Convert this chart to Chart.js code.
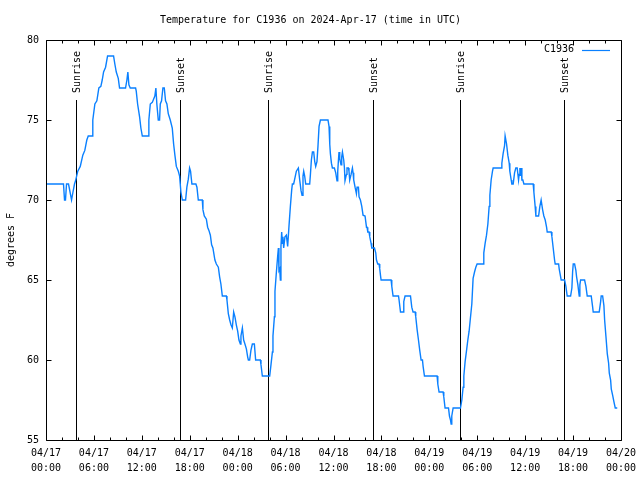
<!DOCTYPE html>
<html>
<head>
<meta charset="utf-8">
<title>Temperature for C1936</title>
<script src="https://cdn.jsdelivr.net/npm/chart.js@4/dist/chart.umd.min.js"></script>
<style>
  html, body { margin: 0; padding: 0; background: #fff; }
  canvas { display: block; }
</style>
</head>
<body>
<canvas id="tempChart" width="640" height="480"></canvas>
<script>
// station + title
const stationName = "C1936";
const chartTitle = "Temperature for C1936 on 2024-Apr-17 (time in UTC)";

// hours since 04/17 00:00 UTC
const hours = [
  0, 2.19, 2.32, 2.44, 2.57, 2.82, 3.2, 3.38, 3.57, 3.7,
  3.98, 4.29, 4.61, 4.86, 5.11, 5.29, 5.79, 5.86, 6.12, 6.37,
  6.62, 6.87, 7.04, 7.21, 7.46, 7.71, 8.46, 8.62, 8.8, 9.05,
  9.21, 9.96, 10.13, 10.25, 10.38, 10.55, 11.22, 11.3, 11.47, 11.72,
  11.88, 12.06, 12.81, 12.88, 13.06, 13.31, 13.63, 13.76, 13.88, 14.06,
  14.22, 14.31, 14.47, 14.64, 14.81, 14.97, 15.14, 15.31, 15.56, 15.81,
  15.98, 16.14, 16.32, 16.57, 16.73, 16.89, 17.07, 17.48, 17.64, 17.82,
  17.98, 18.1, 18.27, 18.77, 18.9, 19.07, 19.57, 19.65, 19.82, 20.08,
  20.24, 20.4, 20.58, 20.74, 20.9, 21.15, 21.33, 21.58, 21.74, 21.9,
  22.08, 22.58, 22.66, 22.83, 23.0, 23.16, 23.33, 23.5, 23.66, 23.83,
  24.0, 24.16, 24.34, 24.41, 24.59, 24.75, 24.91, 25.09, 25.25, 25.34,
  25.5, 25.66, 25.84, 26.09, 26.25, 26.84, 26.92, 27.09, 28.01, 28.17,
  28.35, 28.42, 28.6, 28.67, 28.85, 29.01, 29.1, 29.17, 29.26, 29.35,
  29.42, 29.51, 29.6, 29.67, 29.76, 29.92, 30.1, 30.26, 30.43, 30.6,
  30.76, 30.85, 31.01, 31.18, 31.35, 31.6, 31.77, 31.93, 32.06, 32.18,
  32.27, 32.39, 32.52, 33.02, 33.11, 33.23, 33.36, 33.52, 33.65, 33.77,
  33.93, 34.06, 34.19, 34.36, 35.31, 35.44, 35.53, 35.61, 35.74, 35.86,
  36.11, 36.28, 36.44, 36.53, 36.62, 36.69, 36.78, 36.94, 37.03, 37.12,
  37.28, 37.37, 37.44, 37.62, 37.69, 37.87, 37.94, 38.03, 38.2, 38.37,
  38.45, 38.53, 38.7, 38.87, 38.95, 39.12, 39.2, 39.37, 39.54, 39.7,
  39.95, 40.13, 40.2, 40.29, 40.45, 40.54, 40.7, 40.79, 41.13, 41.29,
  41.38, 41.54, 41.7, 41.79, 41.88, 41.96, 43.21, 43.3, 43.46, 44.14,
  44.21, 44.39, 44.71, 44.8, 44.96, 45.64, 45.8, 45.96, 46.22, 46.3,
  46.47, 46.64, 46.8, 46.97, 47.14, 47.22, 47.39, 48.97, 49.06, 49.22,
  49.72, 49.81, 49.97, 50.4, 50.52, 50.65, 50.73, 50.81, 50.98, 51.9,
  52.07, 52.23, 52.32, 52.48, 52.66, 52.82, 52.98, 53.16, 53.32, 53.48,
  53.66, 53.82, 53.98, 54.74, 54.82, 54.99, 55.16, 55.33, 55.49, 55.58,
  55.74, 55.91, 55.99, 56.99, 57.08, 57.24, 57.42, 57.49, 57.67, 57.83,
  58.0, 58.08, 58.25, 58.33, 58.5, 58.67, 58.83, 59.0, 59.17, 59.25,
  59.34, 59.42, 59.5, 59.59, 59.71, 59.84, 61.0, 61.09, 61.25, 61.34,
  61.68, 61.84, 62.0, 62.18, 62.34, 62.51, 62.68, 62.76, 63.26, 63.35,
  63.51, 63.68, 63.76, 64.19, 64.26, 64.44, 64.51, 64.94, 65.1, 65.26,
  65.69, 65.85, 65.94, 66.02, 66.19, 66.35, 66.44, 66.6, 66.77, 66.85,
  66.94, 67.44, 67.61, 67.77, 68.27, 68.45, 68.52, 69.27, 69.45, 69.52,
  69.7, 69.86, 69.95, 70.11, 70.28, 70.45, 70.53, 70.7, 70.78, 70.95,
  71.11, 71.28, 71.53
];

// degrees F, same order as hours
const tempF = [
  71, 71, 70, 70, 71, 71, 70, 70.5, 71, 71.2,
  71.8, 72.1, 72.8, 73.1, 73.75, 74, 74, 75, 76, 76.2,
  77, 77.1, 77.5, 78, 78.3, 79, 79, 78.5, 78, 77.6,
  77, 77, 77.5, 78, 77.2, 77, 77, 76.8, 76, 75.2,
  74.5, 74, 74, 75, 76, 76.1, 76.5, 77, 76, 75,
  75, 76, 76.2, 77, 77, 76.2, 76, 75.4, 75, 74.5,
  73.5, 72.8, 72.1, 71.8, 71.5, 70.5, 70, 70, 70.8, 71.3,
  72, 71.8, 71, 71, 70.8, 70, 70, 69.4, 69, 68.8,
  68.3, 68.1, 67.8, 67.2, 67, 66.25, 66, 65.8, 65.2, 64.75,
  64, 64, 63.75, 62.9, 62.5, 62.2, 62, 63, 62.7, 62.2,
  61.8, 61.25, 61, 61.5, 62, 61.25, 61, 60.7, 60.2, 60,
  60, 60.6, 61, 61, 60, 60, 59.7, 59, 59, 59.7,
  60.5, 61.5, 62.7, 64.3, 65.5, 66.5, 67, 65.6, 65.7, 65,
  67.1, 68, 67.3, 67.7, 67, 67.7, 67.8, 67.1, 68.4, 69.6,
  70.6, 71, 71, 71.4, 71.8, 72, 71.25, 70.6, 70.3, 71.5,
  71.8, 71.5, 71, 71, 71.6, 72.5, 73, 73, 72.4, 72.1,
  72.4, 73.4, 74.6, 75, 75, 74.6, 73.5, 72.9, 72.3, 72,
  72, 71.7, 71.2, 71.8, 72.5, 73, 72.6, 72.2, 72.7, 73,
  72.5, 72, 71.2, 71.6, 72, 72, 71.8, 71.25, 71.6, 72,
  71.7, 71.25, 70.8, 70.4, 70.8, 70.8, 70.2, 70, 69.6, 69.05,
  69, 68.3, 68.3, 68, 68, 67.7, 67.3, 67, 67, 66.7,
  66.25, 66, 66, 65.7, 65.3, 65, 65, 64.6, 64, 64,
  63.75, 63, 63, 63.65, 64, 64, 63.3, 63, 63, 62.7,
  61.9, 61.25, 60.6, 60, 60, 59.6, 59, 59, 58.5, 58,
  58, 57.7, 57, 57, 56.5, 56.25, 56, 56.5, 57, 57,
  57.5, 58.3, 59, 59.9, 60.6, 61.25, 61.8, 62.7, 63.5, 65.1,
  65.5, 65.8, 66, 66, 66.7, 67.3, 67.8, 68.5, 69.6, 70.3,
  71.25, 71.8, 72, 72, 72.3, 72.9, 73.4, 74, 73.5, 72.8,
  72.3, 71.8, 71.25, 71, 71, 71.7, 72, 72, 71.25, 71.6,
  72, 71.5, 72, 71.25, 71.25, 71, 71, 70.5, 69.6, 69,
  69, 69.6, 70, 69.4, 69, 68.75, 68.3, 68, 68, 67.7,
  67, 66.25, 66, 66, 65.7, 65.2, 65, 65, 64.6, 64,
  64, 64.5, 65.5, 66, 66, 65.6, 65.2, 64.7, 64, 64.7,
  65, 65, 64.6, 64, 64, 63.3, 63, 63, 63.65, 64,
  64, 63.4, 62.5, 61.5, 60.4, 59.8, 59.2, 58.75, 58.2, 57.8,
  57.4, 57, 57
];

// sunrise / sunset markers (hours since start)
const eventHours = [3.76, 16.78, 27.8, 40.95, 51.84, 64.86];
const eventLabels = ["Sunrise", "Sunset", "Sunrise", "Sunset", "Sunrise", "Sunset"];

// tick labels
const xTickDates = ["04/17", "04/17", "04/17", "04/17", "04/18", "04/18", "04/18", "04/18", "04/19", "04/19", "04/19", "04/19", "04/20"];
const xTickTimes = ["00:00", "06:00", "12:00", "18:00", "00:00", "06:00", "12:00", "18:00", "00:00", "06:00", "12:00", "18:00", "00:00"];
const yTicks = [55, 60, 65, 70, 75, 80];

const lineColor = "rgb(10, 128, 255)";
const monoFont = "'DejaVu Sans Mono', 'Liberation Mono', monospace";

// gnuplot style frame: border, inward ticks, sunrise/sunset lines, key
const framePlugin = {
  id: "frame",
  beforeDatasetsDraw(chart) {
    const { ctx, chartArea, scales } = chart;
    const { top, bottom } = chartArea;
    const lineTop = bottom - 0.85 * (bottom - top);
    const labelStart = bottom - 0.8675 * (bottom - top);
    ctx.save();
    ctx.strokeStyle = "#000";
    ctx.lineWidth = 1;
    ctx.fillStyle = "#000";
    ctx.font = "10px " + monoFont;
    eventHours.forEach((h, i) => {
      const x = Math.round(scales.x.getPixelForValue(h)) + 0.5;
      ctx.beginPath();
      ctx.moveTo(x, lineTop);
      ctx.lineTo(x, bottom);
      ctx.stroke();
      ctx.save();
      ctx.translate(x + 1, labelStart);
      ctx.rotate(-Math.PI / 2);
      ctx.textAlign = "left";
      ctx.textBaseline = "middle";
      ctx.fillText(eventLabels[i], 0, 0);
      ctx.restore();
    });
    ctx.restore();
  },
  afterDraw(chart) {
    const { ctx, chartArea, scales } = chart;
    const { left, right, top, bottom } = chartArea;
    const L = Math.round(left) + 0.5;
    const R = Math.round(right) + 0.5;
    const T = Math.round(top) + 0.5;
    const B = Math.round(bottom) + 0.5;
    ctx.save();
    ctx.strokeStyle = "#000";
    ctx.lineWidth = 1;
    ctx.beginPath();
    ctx.rect(L, T, R - L, B - T);
    // x ticks: major every 6h, minor every 2h
    for (let h = 0; h <= 72; h += 2) {
      const x = Math.round(scales.x.getPixelForValue(h)) + 0.5;
      const len = h % 6 === 0 ? 5 : 3;
      ctx.moveTo(x, B);
      ctx.lineTo(x, B - len);
      ctx.moveTo(x, T);
      ctx.lineTo(x, T + len);
    }
    yTicks.forEach((v) => {
      const y = Math.round(scales.y.getPixelForValue(v)) + 0.5;
      ctx.moveTo(L, y);
      ctx.lineTo(L + 5, y);
      ctx.moveTo(R, y);
      ctx.lineTo(R - 5, y);
    });
    ctx.stroke();

    // key
    ctx.fillStyle = "#000";
    ctx.font = "10px " + monoFont;
    ctx.textAlign = "right";
    ctx.textBaseline = "middle";
    ctx.fillText(chart.data.datasets[0].label, right - 47, top + 9);
    ctx.strokeStyle = lineColor;
    ctx.lineWidth = 1.2;
    ctx.beginPath();
    ctx.moveTo(right - 39, top + 10.5);
    ctx.lineTo(right - 11, top + 10.5);
    ctx.stroke();
    ctx.restore();
  },
};

const ctx = document.getElementById("tempChart").getContext("2d");
new Chart(ctx, {
  type: "line",
  data: {
    datasets: [
      {
        label: stationName,
        data: hours.map((h, i) => ({ x: h, y: tempF[i] })),
        borderColor: lineColor,
        borderWidth: 1.4,
        pointRadius: 0,
        tension: 0,
        fill: false,
      },
    ],
  },
  options: {
    responsive: false,
    animation: false,
    events: [],
    layout: { padding: { left: 0, right: 19, top: 0, bottom: 0 } },
    plugins: {
      legend: { display: false },
      tooltip: { enabled: false },
      title: {
        display: true,
        text: chartTitle,
        color: "#000",
        font: { family: monoFont, size: 10, weight: "normal", lineHeight: "14px" },
        padding: { top: 13, bottom: 13 },
      },
    },
    scales: {
      x: {
        type: "linear",
        min: 0,
        max: 72,
        grid: { display: false, drawTicks: false },
        border: { display: false },
        ticks: {
          stepSize: 6,
          autoSkip: false,
          maxRotation: 0,
          padding: 6,
          color: "#000",
          font: { family: monoFont, size: 10, lineHeight: "15px" },
          callback: (value, index) => [xTickDates[index], xTickTimes[index]],
        },
        afterFit: (scale) => {
          scale.height = 40;
          // keep the plot edge at the layout padding, labels may overhang
          scale.paddingLeft = 0;
          scale.paddingRight = 0;
        },
      },
      y: {
        min: 55,
        max: 80,
        grid: { display: false, drawTicks: false },
        border: { display: false },
        ticks: {
          stepSize: 5,
          padding: 7,
          color: "#000",
          font: { family: monoFont, size: 10 },
        },
        title: {
          display: true,
          text: "degrees F",
          color: "#000",
          font: { family: monoFont, size: 10 },
          padding: { top: 5, bottom: 0 },
        },
        afterFit: (scale) => {
          scale.width = 46;
        },
      },
    },
  },
  plugins: [framePlugin],
});
</script>
</body>
</html>
